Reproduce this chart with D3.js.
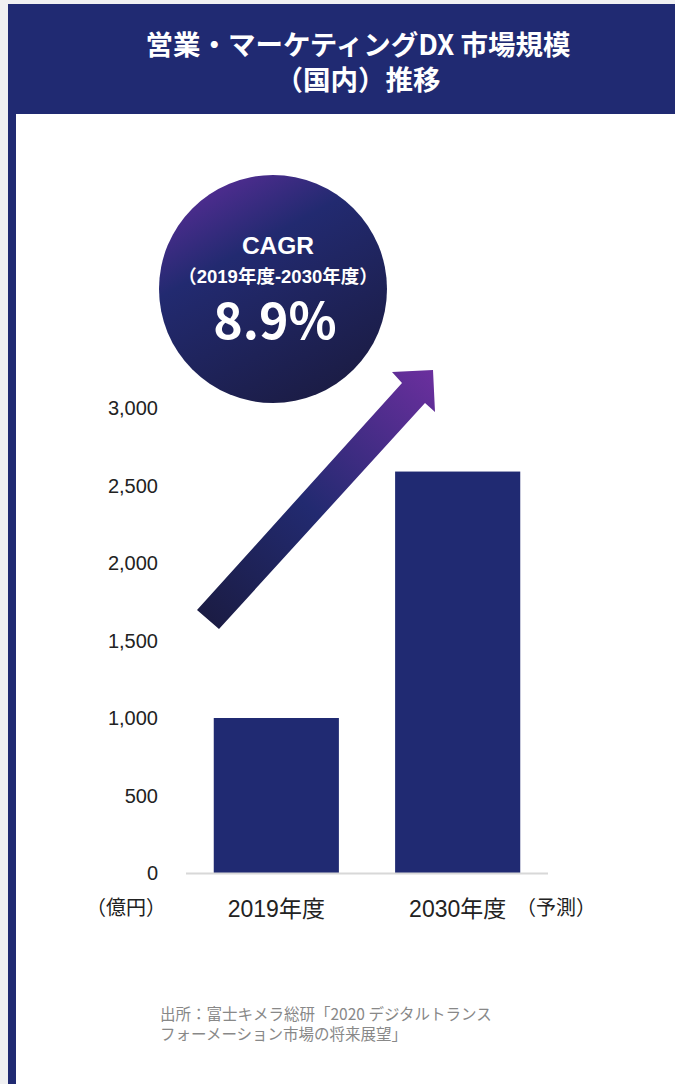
<!DOCTYPE html>
<html>
<head>
<meta charset="utf-8">
<script src="https://d3js.org/d3.v7.min.js"></script>
<style>
  body { margin: 0; background: #f0f0f2; }
  svg { display: block; font-family: "Noto Sans CJK JP", "Noto Sans", sans-serif; }
  .latin { font-family: "Liberation Sans", "Noto Sans CJK JP", sans-serif; }
</style>
</head>
<body>
<svg></svg>
<script>
  const width = 675;
  const height = 1084;

  // data
  const years = ["2019年度", "2030年度"];
  const marketSize = [1000, 2590];   // 億円
  const yTicks = [0, 500, 1000, 1500, 2000, 2500, 3000];
  const titleLines = ["営業・マーケティングDX 市場規模", "（国内）推移"];
  const cagrLines = ["CAGR", "（2019年度-2030年度）", "8.9%"];
  const sourceLines = ["出所：富士キメラ総研「2020 デジタルトランス", "フォーメーション市場の将来展望」"];

  const navy = "#202a72";

  const svg = d3.select("svg").attr("width", width).attr("height", height);

  const defs = svg.append("defs");
  const circGrad = defs.append("linearGradient").attr("id", "circGrad")
      .attr("x1", "15%").attr("y1", "0%").attr("x2", "70%").attr("y2", "100%");
  circGrad.append("stop").attr("offset", "0%").attr("stop-color", "#5b2d98");
  circGrad.append("stop").attr("offset", "35%").attr("stop-color", "#222a70");
  circGrad.append("stop").attr("offset", "100%").attr("stop-color", "#1b1c44");

  const arrowGrad = defs.append("linearGradient").attr("id", "arrowGrad")
      .attr("gradientUnits", "userSpaceOnUse")
      .attr("x1", 208).attr("y1", 620).attr("x2", 433).attr("y2", 370);
  arrowGrad.append("stop").attr("offset", "0%").attr("stop-color", "#1b1c44");
  arrowGrad.append("stop").attr("offset", "45%").attr("stop-color", "#222a70");
  arrowGrad.append("stop").attr("offset", "100%").attr("stop-color", "#6b2f9e");

  // frame
  svg.append("rect").attr("x", 0).attr("y", 0).attr("width", width).attr("height", height).attr("fill", "#f0f0f2");
  svg.append("rect").attr("x", 8).attr("y", 4).attr("width", width - 8).attr("height", height).attr("fill", navy);
  svg.append("rect").attr("x", 16).attr("y", 114).attr("width", width - 16).attr("height", height).attr("fill", "#fff");

  svg.selectAll(".title").data(titleLines).enter().append("text")
      .attr("x", 358).attr("y", (d, i) => 55 + i * 35)
      .attr("text-anchor", "middle").attr("fill", "#fff")
      .attr("font-size", 27.5).attr("font-weight", "bold")
      .text(d => d);

  // scales
  const y = d3.scaleLinear().domain([0, 3000]).range([873, 408]);
  const x = d3.scaleBand().domain(years).range([186, 548]).paddingInner(0.31).paddingOuter(0.153);

  // y axis labels
  svg.append("g").selectAll("text").data(yTicks).enter().append("text")
      .attr("class", "latin")
      .attr("x", 158).attr("y", d => y(d) + 7)
      .attr("text-anchor", "end").attr("font-size", 20).attr("fill", "#222")
      .text(d => d3.format(",")(d));

  svg.append("text").attr("x", 86).attr("y", 915)
      .attr("font-size", 20).attr("fill", "#222").text("（億円）");

  // bars
  svg.append("g").selectAll("rect").data(marketSize).enter().append("rect")
      .attr("x", (d, i) => x(years[i])).attr("y", d => y(d))
      .attr("width", x.bandwidth()).attr("height", d => y(0) - y(d))
      .attr("fill", navy);

  svg.append("line").attr("x1", 186).attr("x2", 548).attr("y1", y(0) + 0.5).attr("y2", y(0) + 0.5)
      .attr("stroke", "#d8d8d8").attr("stroke-width", 2);

  svg.append("g").selectAll("text").data(years).enter().append("text")
      .attr("class", "latin")
      .attr("x", d => x(d) + x.bandwidth() / 2).attr("y", 917)
      .attr("text-anchor", "middle").attr("font-size", 23).attr("fill", "#222")
      .text(d => d);
  svg.append("text").attr("x", 516).attr("y", 915)
      .attr("font-size", 20).attr("fill", "#222").text("（予測）");

  // arrow
  const arrow = d3.path();
  arrow.moveTo(197, 610);
  arrow.lineTo(402, 383);
  arrow.lineTo(392, 372);
  arrow.lineTo(433, 370);
  arrow.lineTo(435, 412);
  arrow.lineTo(425, 403);
  arrow.lineTo(219, 629);
  arrow.closePath();
  svg.append("path").attr("d", arrow.toString()).attr("fill", "url(#arrowGrad)");

  // CAGR circle
  svg.append("circle").attr("cx", 273).attr("cy", 289).attr("r", 114).attr("fill", "url(#circGrad)");
  const cagr = svg.append("g").attr("fill", "#fff").attr("text-anchor", "middle").attr("font-weight", "bold");
  cagr.append("text").attr("class", "latin").attr("x", 278).attr("y", 254).attr("font-size", 24.5).text(cagrLines[0]);
  cagr.append("text").attr("class", "latin").attr("x", 278).attr("y", 283).attr("font-size", 18.5).text(cagrLines[1]);
  cagr.append("text").attr("x", 275).attr("y", 339).attr("font-size", 50).text(cagrLines[2]);

  // source
  svg.selectAll(".src").data(sourceLines).enter().append("text")
      .attr("x", 160).attr("y", (d, i) => 1020 + i * 20)
      .attr("font-size", 15.5).attr("fill", "#888")
      .text(d => d);
</script>
</body>
</html>
